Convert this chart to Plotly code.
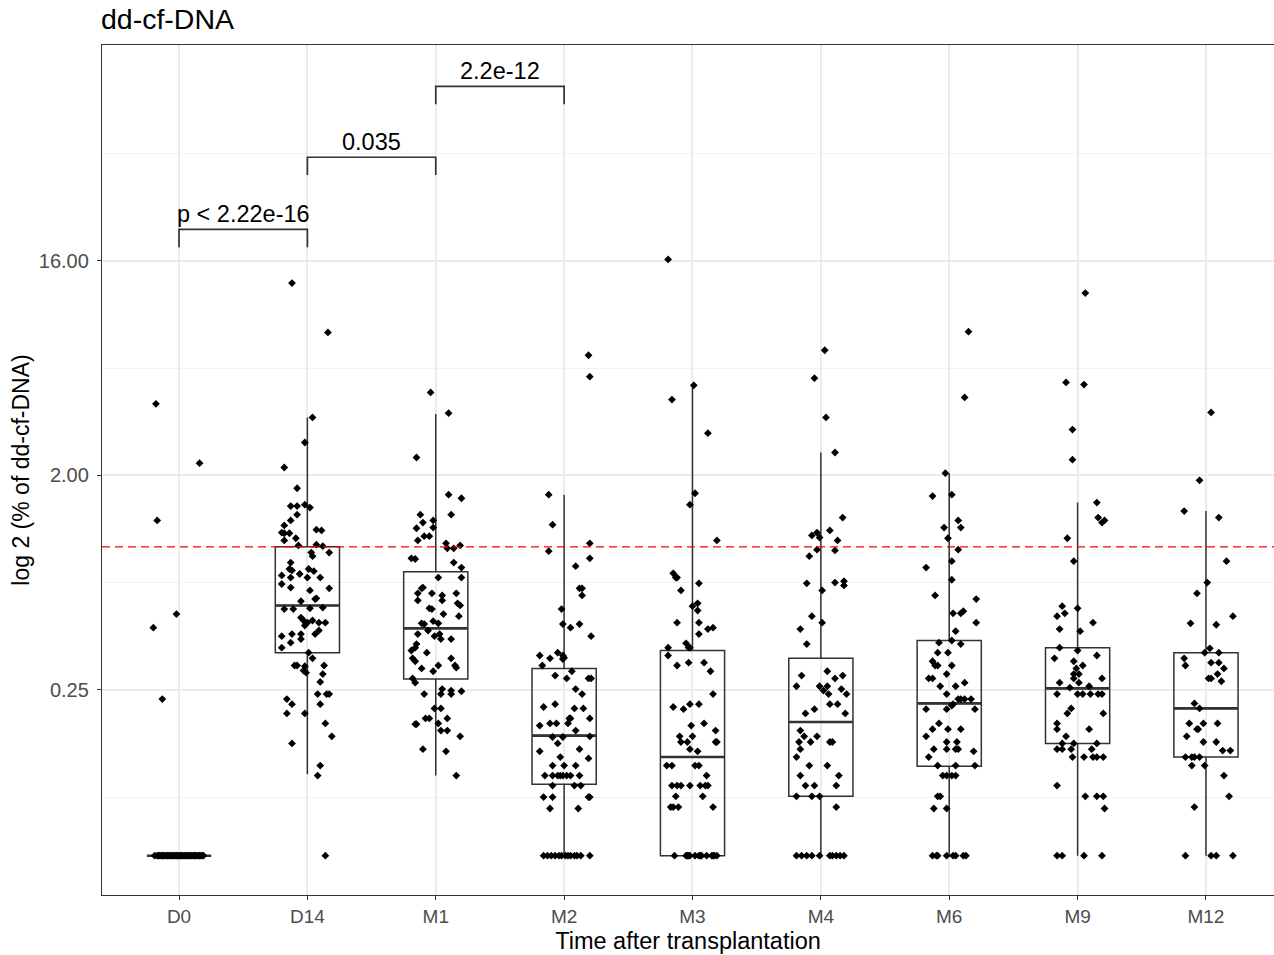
import plotly.graph_objects as go

# ---------------- data (values are log2 of % dd-cf-DNA) ----------------
categories = ["D0", "D14", "M1", "M2", "M3", "M4", "M6", "M9", "M12"]
y_tick_log2 = [-2, 1, 4]
y_tick_text = ["0.25", "2.00", "16.00"]
y_minor_log2 = [-3.5, -0.5, 2.5, 5.5]
threshold_log2 = 0.0   # 1 % cut-off

q1_log2 = [-4.32, -1.48, -1.85, -3.32, -4.32, -3.49, -3.07, -2.75, -2.94]
median_log2 = [-4.32, -0.82, -1.14, -2.64, -2.94, -2.45, -2.19, -1.98, -2.26]
q3_log2 = [-4.32, 0.00, -0.35, -1.70, -1.45, -1.56, -1.31, -1.41, -1.48]
lower_whisker_log2 = [-4.32, -3.18, -3.20, -4.32, -4.32, -4.32, -4.32, -4.32, -4.32]
upper_whisker_log2 = [-4.32, 1.81, 1.86, 0.73, 2.26, 1.32, 1.03, 0.62, 0.50]

comparison_pairs = [("D0", "D14"), ("D14", "M1"), ("M1", "M2")]
comparison_labels = ["p < 2.22e-16", "0.035", "2.2e-12"]
comparison_log2 = [4.44, 5.45, 6.44]

d0_log2 = [2.00, 1.17, 0.37, -0.94, -1.13, -2.13,
           -4.32, -4.32, -4.32, -4.32, -4.32, -4.32, -4.32, -4.32, -4.32, -4.32,
           -4.32, -4.32, -4.32, -4.32, -4.32, -4.32, -4.32, -4.32, -4.32, -4.32,
           -4.32, -4.32, -4.32, -4.32, -4.32, -4.32, -4.32, -4.32, -4.32, -4.32,
           -4.32, -4.32, -4.32, -4.32, -4.32, -4.32, -4.32, -4.32]
d0_jit = [-0.18, 0.16, -0.17, -0.02, -0.20, -0.13,
          -0.19, -0.17, -0.16, -0.15, -0.13, -0.12, -0.11, -0.10, -0.08, -0.07,
          -0.06, -0.05, -0.03, -0.02, -0.01, 0.00, 0.01, 0.03, 0.04, 0.05,
          0.06, 0.08, 0.09, 0.10, 0.11, 0.13, 0.14, 0.15, 0.16, 0.18,
          0.19, -0.14, -0.09, -0.04, 0.02, 0.07, 0.12, 0.17]

d14_log2 = [3.69, 3.00, 1.81, 1.46, 1.11, 0.82, 0.57, 0.57, 0.59, 0.55, 0.45, 0.37, 0.30,
            0.24, 0.23, 0.20, 0.19, 0.19, 0.12, 0.09, 0.02, 0.03, 0.01, -0.08, -0.13, -0.08,
            -0.22, -0.31, -0.33, -0.38, -0.31, -0.34, -0.40, -0.43, -0.43, -0.43, -0.52, -0.57,
            -0.61, -0.58, -0.76, -0.73, -0.72, -0.87, -0.87, -0.86, -0.85, -0.99, -1.03, -1.07,
            -1.06, -1.03, -1.06, -1.06, -1.10, -1.17, -1.22, -1.25, -1.22, -1.22, -1.34, -1.29,
            -1.41, -1.48, -1.56, -1.66, -1.66, -1.67, -1.73, -1.76, -1.66, -1.78, -1.89, -2.06,
            -2.06, -2.06, -2.13, -2.20, -2.20, -2.33, -2.33, -2.47, -2.65, -2.75, -3.06, -3.20,
            -4.32]
d14_jit = [-0.12, 0.16, 0.04, -0.02, -0.18, -0.08, -0.13, -0.08, -0.02, 0.02, -0.08, -0.13, -0.18,
           0.07, 0.11, -0.20, -0.18, -0.14, -0.09, -0.18, -0.07, 0.07, 0.12, 0.03, 0.04, 0.17,
           -0.13, -0.14, -0.12, -0.06, 0.01, 0.05, -0.20, -0.13, 0.00, 0.10, -0.20, -0.13,
           0.02, 0.17, -0.05, 0.06, 0.07, -0.18, -0.11, 0.02, 0.12, -0.05, -0.03, -0.01,
           0.00, 0.04, 0.09, 0.14, -0.02, 0.09, 0.06, -0.20, -0.12, -0.05, -0.13, -0.05,
           -0.20, 0.01, 0.04, -0.10, -0.08, -0.02, -0.03, -0.01, 0.13, 0.12, 0.10, 0.08,
           0.15, 0.17, -0.16, -0.12, 0.10, -0.16, -0.02, 0.14, 0.19, -0.12, 0.10, 0.08,
           0.14]

m1_log2 = [2.16, 1.87, 1.25, 0.73, 0.68, 0.45, 0.45, 0.34, 0.37, 0.27, 0.26, 0.15, 0.15, 0.09,
           0.05, -0.02, -0.02, 0.02, -0.16, -0.17, -0.22, -0.29, -0.43, -0.43, -0.57, -0.58,
           -0.65, -0.65, -0.68, -0.65, -0.75, -0.75, -0.79, -0.82, -0.86, -0.87, -0.94, -0.97,
           -1.07, -1.08, -1.04, -1.07, -1.22, -1.17, -1.25, -1.22, -1.29, -1.29, -1.36, -1.41,
           -1.45, -1.48, -1.56, -1.60, -1.56, -1.66, -1.69, -1.66, -1.70, -1.74, -1.84, -1.90,
           -2.06, -1.99, -2.06, -2.01, -2.06, -2.02, -2.26, -2.26, -2.40, -2.40, -2.40, -2.48,
           -2.48, -2.47, -2.57, -2.57, -2.65, -2.83, -2.86, -3.20]
m1_jit = [-0.04, 0.10, -0.15, 0.10, 0.20, -0.12, 0.12, -0.10, -0.02, -0.02, -0.15, -0.09, -0.05, -0.14,
          0.08, 0.09, 0.14, 0.19, -0.19, -0.16, 0.14, 0.20, 0.02, 0.20, -0.10, -0.11,
          -0.14, -0.03, 0.05, 0.16, -0.14, 0.05, 0.17, 0.19, -0.05, -0.03, 0.06, 0.18,
          -0.11, -0.09, -0.02, 0.02, -0.14, -0.06, -0.01, 0.03, 0.04, 0.12, -0.15, -0.16,
          -0.19, -0.07, -0.18, -0.16, 0.12, 0.15, 0.16, 0.02, -0.11, -0.02, -0.18, -0.16,
          -0.09, 0.05, 0.04, 0.12, 0.12, 0.20, -0.01, 0.04, -0.08, -0.05, 0.09, -0.16,
          -0.15, 0.02, 0.04, 0.09, 0.19, -0.10, 0.08, 0.16]

m2_log2 = [2.68, 2.38, 0.73, 0.31, 0.05, -0.06, -0.16, -0.27, -0.58, -0.58, -0.68, -0.87, -1.08,
           -1.13, -1.08, -1.25, -1.52, -1.56, -1.48, -1.66, -1.52, -1.55, -1.57, -1.74, -1.80,
           -1.84, -1.84, -1.84, -1.99, -2.06, -2.24, -2.20, -2.26, -2.26, -2.50, -2.47, -2.47,
           -2.47, -2.40, -2.40, -2.57, -2.40, -2.66, -2.66, -2.65, -2.75, -2.86, -2.83, -2.96,
           -2.94, -3.06, -3.06, -3.06, -3.20, -3.20, -3.20, -3.20, -3.20, -3.20, -3.20, -3.20,
           -3.34, -3.34, -3.34, -3.50, -3.50, -3.50, -3.50, -3.66, -3.66,
           -4.32, -4.32, -4.32, -4.32, -4.32, -4.32, -4.32, -4.32, -4.32, -4.32, -4.32, -4.32, -4.32]
m2_jit = [0.19, 0.20, -0.12, -0.09, 0.20, -0.12, 0.20, 0.09, 0.12, 0.14, 0.14, -0.02, -0.01,
          0.05, 0.12, 0.21, -0.19, -0.11, -0.05, -0.17, -0.01, 0.00, -0.01, 0.06, -0.07,
          0.02, 0.19, 0.21, 0.09, 0.14, -0.16, -0.07, 0.08, 0.15, -0.19, -0.11, -0.06,
          0.03, 0.04, 0.05, 0.09, 0.20, -0.09, -0.01, 0.20, -0.05, -0.19, 0.12, 0.19,
          -0.03, -0.09, 0.00, 0.09, -0.15, -0.09, -0.05, -0.03, -0.01, 0.02, 0.05, 0.12,
          -0.09, 0.08, 0.13, -0.16, -0.09, 0.19, 0.20, -0.11, 0.11,
          -0.16, -0.13, -0.10, -0.07, -0.04, -0.02, 0.01, 0.03, 0.05, 0.08, 0.10, 0.13, 0.20]

m3_log2 = [4.02, 2.26, 2.06, 1.59, 0.75, 0.59, 0.09, -0.37, -0.43, -0.43, -0.51, -0.61, -0.83,
           -0.79, -0.89, -1.06, -1.06, -1.15, -1.13, -1.22, -1.35, -1.41, -1.41, -1.41, -1.52,
           -1.66, -1.62, -1.62, -1.74, -2.06, -2.24, -2.27, -2.20, -2.20, -2.50, -2.47, -2.57,
           -2.65, -2.65, -2.73, -2.73, -2.73, -2.73, -2.83, -2.86, -3.06, -3.06, -3.06, -3.06,
           -3.34, -3.34, -3.34, -3.34, -3.34, -3.34, -3.34, -3.20, -3.49, -3.49, -3.64, -3.64,
           -3.64, -3.64,
           -4.32, -4.32, -4.32, -4.32, -4.32, -4.32, -4.32, -4.32, -4.32, -4.32, -4.32, -4.32,
           -4.32, -4.32]
m3_jit = [-0.19, 0.01, -0.16, 0.12, 0.02, -0.02, 0.19, -0.15, -0.13, -0.12, 0.05, -0.09, 0.00,
          0.04, 0.04, -0.12, 0.05, 0.12, 0.16, 0.05, -0.05, -0.03, -0.02, -0.19, -0.19,
          -0.12, -0.03, 0.09, 0.14, 0.16, -0.15, -0.07, -0.02, 0.05, -0.01, 0.09, 0.18,
          -0.10, 0.00, -0.09, -0.04, 0.18, 0.19, -0.02, 0.04, -0.20, -0.16, 0.02, 0.05,
          -0.16, -0.12, -0.09, -0.02, 0.06, 0.10, 0.12, 0.11, -0.13, 0.08, -0.17, -0.15,
          -0.11, 0.16,
          -0.14, -0.05, -0.04, -0.03, -0.02, 0.02, 0.05, 0.06, 0.07, 0.11, 0.15, 0.16,
          0.17, 0.19]

m4_log2 = [2.75, 2.36, 1.81, 1.32, 0.41, 0.23, 0.09, 0.16, 0.20, 0.13, -0.04, -0.05, -0.13,
           -0.51, -0.61, -0.50, -0.48, -0.54, -0.97, -1.06, -1.15, -1.36, -1.80, -1.74, -1.84,
           -1.80, -1.95, -1.95, -2.01, -1.95, -2.06, -1.99, -2.06, -2.33, -2.27, -2.20, -2.20,
           -2.33, -2.57, -2.65, -2.73, -2.65, -2.73, -2.83, -2.94, -2.73, -2.73, -3.06, -3.06,
           -3.20, -3.20, -3.34, -3.34, -3.34, -3.49, -3.49, -3.49, -3.64,
           -4.32, -4.32, -4.32, -4.32, -4.32, -4.32, -4.32, -4.32, -4.32, -4.32]
m4_jit = [0.03, -0.05, 0.04, 0.11, 0.17, 0.07, 0.13, -0.07, -0.03, -0.01, -0.03, 0.11, -0.09,
          -0.11, 0.01, 0.11, 0.18, 0.18, -0.07, 0.01, -0.16, -0.11, -0.15, 0.05, 0.11,
          0.17, -0.19, -0.01, 0.02, 0.05, 0.06, 0.16, 0.20, -0.12, -0.05, 0.07, 0.13,
          0.19, -0.16, -0.13, -0.08, -0.03, -0.17, -0.16, -0.19, 0.07, 0.09, -0.09, 0.05,
          -0.16, 0.14, -0.12, -0.05, 0.12, -0.19, -0.07, -0.01, 0.12,
          -0.19, -0.15, -0.11, -0.07, -0.01, 0.07, 0.09, 0.12, 0.15, 0.18]

m6_log2 = [3.01, 2.09, 1.03, 0.73, 0.71, 0.37, 0.27, 0.27, 0.12, -0.04, -0.20, -0.29, -0.46,
           -0.68, -0.73, -0.93, -0.93, -0.90, -1.06, -1.18, -1.34, -1.31, -1.36, -1.48, -1.48,
           -1.60, -1.66, -1.66, -1.66, -1.84, -1.84, -1.78, -1.90, -1.95, -1.95, -2.06, -2.13,
           -2.13, -2.13, -2.13, -2.22, -2.20, -2.27, -2.27, -2.27, -2.47, -2.55, -2.55, -2.55,
           -2.65, -2.73, -2.73, -2.83, -2.83, -2.83, -2.83, -2.86, -2.94, -3.06, -3.06, -3.06,
           -3.20, -3.20, -3.20, -3.20, -3.49, -3.49, -3.66, -3.66,
           -4.32, -4.32, -4.32, -4.32, -4.32, -4.32, -4.32, -4.32]
m6_jit = [0.15, 0.12, -0.03, 0.02, -0.13, 0.07, 0.09, -0.04, -0.01, 0.07, 0.02, -0.18, 0.02,
          -0.11, 0.21, 0.03, 0.09, 0.11, 0.21, 0.05, -0.08, 0.02, 0.09, -0.09, -0.01,
          -0.13, -0.11, -0.09, 0.02, -0.16, -0.13, -0.02, 0.12, -0.07, 0.05, -0.02, 0.07,
          0.09, 0.12, 0.17, 0.02, 0.03, -0.18, -0.02, 0.20, -0.08, -0.13, -0.01, 0.09,
          -0.18, -0.02, 0.06, -0.12, -0.02, 0.05, 0.07, 0.19, -0.16, -0.09, 0.05, 0.20,
          -0.05, -0.02, 0.02, 0.05, -0.09, -0.07, -0.12, -0.02,
          -0.13, -0.10, -0.09, -0.02, 0.03, 0.05, 0.11, 0.13]

m9_log2 = [3.55, 2.30, 2.27, 1.64, 1.22, 0.62, 0.41, 0.34, 0.37, 0.12, -0.20, -0.83, -0.93,
           -0.97, -0.86, -1.06, -1.15, -1.18, -1.41, -1.45, -1.56, -1.52, -1.60, -1.66, -1.70,
           -1.78, -1.78, -1.84, -1.90, -1.97, -1.90, -1.95, -1.84, -2.06, -2.06, -2.06, -2.06,
           -2.06, -2.06, -2.26, -2.33, -2.33, -2.47, -2.55, -2.65, -2.55, -2.75, -2.75, -2.75,
           -2.83, -2.83, -2.83, -2.83, -2.94, -2.94, -2.94, -2.94, -2.94, -3.34, -3.49, -3.49,
           -3.49, -3.66,
           -4.32, -4.32, -4.32, -4.32]
m9_jit = [0.06, -0.09, 0.05, -0.04, -0.04, 0.15, 0.16, 0.19, 0.21, -0.08, -0.03, -0.12, -0.10,
          -0.16, 0.00, 0.12, -0.14, 0.02, -0.14, 0.00, -0.18, 0.15, -0.03, 0.04, -0.01,
          -0.03, 0.01, -0.03, -0.14, -0.06, 0.01, 0.09, 0.19, -0.16, 0.00, 0.04, 0.10,
          0.16, 0.19, -0.05, -0.08, 0.20, -0.16, -0.16, -0.09, 0.09, -0.12, -0.03, 0.15,
          -0.16, -0.12, -0.05, 0.11, -0.04, 0.05, 0.12, 0.15, 0.20, -0.16, 0.06, 0.15,
          0.20, 0.21,
          -0.16, -0.12, 0.05, 0.19]

m12_log2 = [1.88, 0.93, 0.50, 0.41, -0.20, -0.50, -0.65, -1.07, -1.09, -0.97, -1.48, -1.42, -1.48,
            -1.56, -1.66, -1.62, -1.62, -1.70, -1.84, -1.84, -1.78, -1.88, -2.19, -2.26, -2.47,
            -2.47, -2.47, -2.55, -2.55, -2.65, -2.73, -2.73, -2.85, -2.85, -2.94, -2.94, -2.94,
            -2.94, -3.06, -3.06, -3.20, -3.49, -3.64,
            -4.32, -4.32, -4.32, -4.32]
m12_jit = [0.04, -0.05, -0.17, 0.10, 0.16, 0.01, -0.07, -0.12, 0.08, 0.21, -0.01, 0.03, 0.10,
           -0.17, -0.16, 0.04, 0.10, 0.14, 0.02, 0.04, 0.09, 0.12, -0.09, -0.05, -0.13,
           -0.02, 0.09, -0.07, -0.06, -0.15, -0.02, 0.08, 0.13, 0.19, -0.16, -0.11, -0.09,
           -0.05, -0.11, -0.01, 0.14, 0.18, -0.09,
           -0.16, 0.04, 0.08, 0.21]

group_values = [d0_log2, d14_log2, m1_log2, m2_log2, m3_log2, m4_log2, m6_log2, m9_log2, m12_log2]
group_jitter = [d0_jit, d14_jit, m1_jit, m2_jit, m3_jit, m4_jit, m6_jit, m9_jit, m12_jit]

# ---------------- figure ----------------
FONT = "Liberation Sans, Arial, sans-serif"
BOX_W = 0.5
positions = list(range(1, len(categories) + 1))
pos_of = {c: p for c, p in zip(categories, positions)}

fig = go.Figure()

fig.add_trace(go.Box(
    x=positions, q1=q1_log2, median=median_log2, q3=q3_log2,
    lowerfence=lower_whisker_log2, upperfence=upper_whisker_log2,
    width=BOX_W, whiskerwidth=0, boxpoints=False,
    fillcolor="rgba(0,0,0,0)", line=dict(color="#333333", width=1.5),
    hoverinfo="skip", showlegend=False))

# thicker median bars
mx, my = [], []
for p, m in zip(positions, median_log2):
    mx += [p - BOX_W / 2, p + BOX_W / 2, None]
    my += [m, m, None]
fig.add_trace(go.Scatter(x=mx, y=my, mode="lines", line=dict(color="#333333", width=2.6),
                         hoverinfo="skip", showlegend=False))

# jittered points
for p, vals, jit in zip(positions, group_values, group_jitter):
    fig.add_trace(go.Scatter(
        x=[p + j for j in jit], y=vals, mode="markers",
        marker=dict(symbol="diamond", size=6, color="black", line=dict(width=0)),
        hoverinfo="skip", showlegend=False))

# threshold line
fig.add_hline(y=threshold_log2, line=dict(color="#ff0000", width=1.4, dash="8px,5px"))

# significance brackets
TIP = 0.25
for (a, b), lab, yb in zip(comparison_pairs, comparison_labels, comparison_log2):
    xa, xb = pos_of[a], pos_of[b]
    fig.add_trace(go.Scatter(x=[xa, xa, xb, xb], y=[yb - TIP, yb, yb, yb - TIP], mode="lines",
                             line=dict(color="#333333", width=1.7), hoverinfo="skip",
                             showlegend=False))
    fig.add_annotation(x=(xa + xb) / 2, y=yb, text=lab, showarrow=False, yanchor="bottom",
                       yshift=0, font=dict(family=FONT, size=23.5, color="black"))

fig.update_layout(
    width=1274, height=955,
    margin=dict(l=102, r=0, t=45, b=60),
    paper_bgcolor="white", plot_bgcolor="white",
    font=dict(family=FONT, color="black"),
    title=dict(text="dd-cf-DNA", x=101 / 1274, xanchor="left", xref="container",
               y=1 - 19 / 955, yanchor="middle", yref="container",
               font=dict(family=FONT, size=28.5, color="black")),
    showlegend=False,
)
fig.update_xaxes(
    range=[0.4, 9.53], tickmode="array", tickvals=positions, ticktext=categories,
    showgrid=True, gridcolor="#ebebeb", gridwidth=1.5, zeroline=False,
    showline=True, linecolor="#333333", linewidth=1.3, mirror=True,
    ticks="outside", ticklen=4, tickcolor="#333333", tickwidth=1.2,
    tickfont=dict(family=FONT, size=19, color="#4d4d4d"),
    title=dict(text="Time after transplantation", standoff=6,
               font=dict(family=FONT, size=23.5, color="black")),
)
fig.update_yaxes(
    range=[-4.87, 7.02], tickmode="array", tickvals=y_tick_log2, ticktext=y_tick_text,
    showgrid=True, gridcolor="#ebebeb", gridwidth=1.5, zeroline=False,
    minor=dict(tickmode="array", tickvals=y_minor_log2, showgrid=True,
               gridcolor="#f2f2f2", gridwidth=1, ticks=""),
    showline=True, linecolor="#333333", linewidth=1.3, mirror=False,
    ticks="outside", ticklen=4, tickcolor="#333333", tickwidth=1.2,
    ticklabelstandoff=4,
    tickfont=dict(family=FONT, size=20, color="#4d4d4d"),
    title=dict(text="log 2 (% of dd-cf-DNA)", standoff=2,
               font=dict(family=FONT, size=23, color="black")),
)

fig.write_html("out.html")
